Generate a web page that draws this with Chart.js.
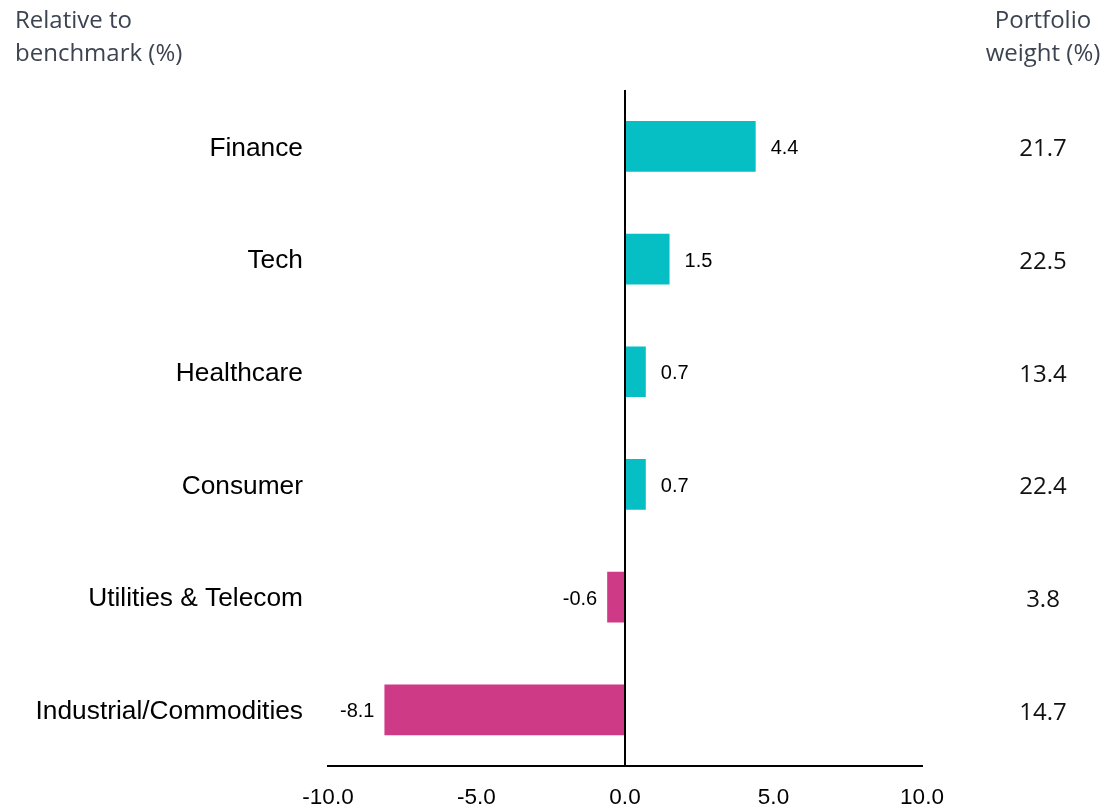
<!DOCTYPE html>
<html>
<head>
<meta charset="utf-8">
<script src="https://cdn.jsdelivr.net/npm/chart.js@4/dist/chart.umd.min.js"></script>
<style>
  html, body { margin: 0; padding: 0; background: #fff; }
  #wrap { position: relative; width: 1104px; height: 807px; }
  canvas { display: block; }
</style>
</head>
<body>
<div id="wrap"><canvas id="c" width="1104" height="807"></canvas></div>
<script>
const categories = ["Finance", "Tech", "Healthcare", "Consumer", "Utilities & Telecom", "Industrial/Commodities"];
const relativeToBenchmark = [4.4, 1.5, 0.7, 0.7, -0.6, -8.1];
const portfolioWeight = [21.7, 22.5, 13.4, 22.4, 3.8, 14.7];
const xTicks = [-10, -5, 0, 5, 10];
const leftHeader = ["Relative to", "benchmark (%)"];
const rightHeader = ["Portfolio", "weight (%)"];

const POS = '#06BFC5';
const NEG = '#CE3A85';
const HEAD = '#3d4451';

const extras = {
  id: 'extras',
  afterDatasetsDraw(chart) {
    const ctx = chart.ctx;
    const meta = chart.getDatasetMeta(0);
    ctx.save();
    ctx.textBaseline = 'middle';
    meta.data.forEach((bar, i) => {
      const v = relativeToBenchmark[i];
      ctx.fillStyle = '#000';
      ctx.font = '20px "Liberation Sans", Arial, sans-serif';
      if (v >= 0) {
        ctx.textAlign = 'left';
        ctx.fillText(v.toFixed(1), bar.x + 15, bar.y + 2);
      } else {
        ctx.textAlign = 'right';
        ctx.fillText(v.toFixed(1), bar.x - 10, bar.y + 2);
      }
      ctx.font = '24px "Open Sans", sans-serif';
      ctx.textAlign = 'center';
      ctx.fillStyle = '#111';
      ctx.fillText(portfolioWeight[i].toFixed(1), 1043, bar.y + 3);
    });
    ctx.fillStyle = HEAD;
    ctx.font = '24px "Open Sans", sans-serif';
    ctx.textAlign = 'left';
    ctx.fillText(leftHeader[0], 15, 21);
    ctx.fillText(leftHeader[1], 15, 54);
    ctx.textAlign = 'center';
    ctx.fillText(rightHeader[0], 1043, 21);
    ctx.fillText(rightHeader[1], 1043, 54);
    ctx.restore();
  }
};

new Chart(document.getElementById('c'), {
  type: 'bar',
  data: {
    labels: categories,
    datasets: [{
      data: relativeToBenchmark,
      backgroundColor: relativeToBenchmark.map(v => v >= 0 ? POS : NEG),
      borderWidth: 0,
      barPercentage: 0.45,
      categoryPercentage: 1.0
    }]
  },
  options: {
    indexAxis: 'y',
    responsive: false,
    animation: false,
    layout: { padding: { left: 0, top: 90, right: 182, bottom: 0 } },
    plugins: { legend: { display: false }, tooltip: { enabled: false } },
    scales: {
      y: {
        afterFit(scale) { scale.width = 328; },
        grid: { display: false, drawTicks: false },
        border: { display: false },
        ticks: {
          padding: 25,
          labelOffset: 2,
          color: '#000',
          font: { family: '"Liberation Sans", Arial, sans-serif', size: 26.3 }
        }
      },
      x: {
        min: -10,
        max: 10,
        afterFit(scale) { scale.height = 40; },
        afterBuildTicks(scale) { scale.ticks = xTicks.map(v => ({ value: v })); },
        grid: {
          drawTicks: false,
          lineWidth: 2,
          color: ctx => (ctx.tick && ctx.tick.value === 0) ? '#000' : 'rgba(0,0,0,0)'
        },
        border: { display: true, color: '#000', width: 2 },
        ticks: {
          padding: 18,
          color: '#000',
          font: { family: '"Liberation Sans", Arial, sans-serif', size: 22.5 },
          callback: v => Number(v).toFixed(1)
        }
      }
    }
  },
  plugins: [extras]
});
</script>
</body>
</html>
